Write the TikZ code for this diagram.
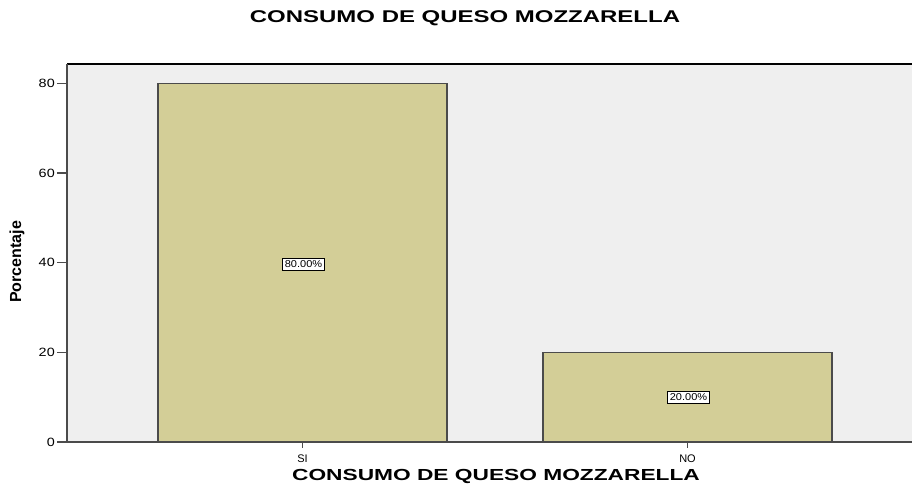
\documentclass[tikz,border=0pt]{standalone}
\usepackage{fontspec}
\setmainfont{Liberation Sans}
\usepackage{xcolor}
\usetikzlibrary{positioning}
\definecolor{fondo}{RGB}{239,239,239}
\definecolor{barra}{RGB}{211,206,151}
\definecolor{eje}{RGB}{75,75,75}

\begin{document}
\begin{tikzpicture}[x=1pt,y=1pt]
				\useasboundingbox (0,0) rectangle (912,485);
				
				% area del grafico
				\fill[fondo] (67,43) rectangle (912,421);
				\draw[black,line width=1.3pt] (67,421) -- (912,421);
				
				% barras
				\draw[eje,line width=1.3pt,fill=barra] (158,43) rectangle (447,401.7);%SI%
				\draw[eje,line width=1.3pt,fill=barra] (543,43) rectangle (832,132.7);%NO%
				\draw[eje,line width=1.3pt] (67,421) -- (67,43) -- (912,43);
				
				\coordinate (Y0) at (67,43);
				\coordinate (Y20) at (67,132.7);
				\coordinate (Y40) at (67,222.4);
				\coordinate (Y60) at (67,312.0);
				\coordinate (Y80) at (67,401.7);
				\coordinate (XSI) at (302.5,43);
				\coordinate (XNO) at (687.5,43);
				
				\begin{scope}[every node/.style={inner sep=0pt,font=\fontsize{12}{14}\selectfont,xscale=1.2}]
					\node[left=12pt of Y0] (L0) {0};
					\node[left=12pt of Y20] (L20) {20};
					\node[left=12pt of Y40] (L40) {40};
					\node[left=12pt of Y60] (L60) {60};
					\node[left=12pt of Y80] (L80) {80};
				\end{scope}
				
				\begin{scope}[every node/.style={inner sep=0pt,font=\fontsize{11}{13}\selectfont}]
					\node[below=13pt of XSI] (LSI) {SI};
					\node[below=13pt of XNO] (LNO) {NO};
				\end{scope}
				
				\begin{scope}[eje,line width=1.2pt]
					\draw (Y0) -- ++(-10,0);
					\draw (Y20) -- ++(-10,0);
					\draw (Y40) -- ++(-10,0);
					\draw (Y60) -- ++(-10,0);
					\draw (Y80) -- ++(-10,0);
					\draw (XSI) -- ++(0,-6);
					\draw (XNO) -- ++(0,-6);
				\end{scope}
				
				% etiquetas de porcentaje
				\begin{scope}[every node/.style={draw=black,thick,fill=white,inner xsep=2pt,inner ysep=2.5pt,font=\fontsize{10}{12}\selectfont,xscale=1.1}]
					\node (P1) at (303.5,221) {80.00\%};
					\node (P2) at (688.5,88) {20.00\%};
				\end{scope}
				
				% titulos
				\node[font=\bfseries\fontsize{17}{20}\selectfont,xscale=1.41] (T) at (465,467) {CONSUMO DE QUESO MOZZARELLA};
				\node[font=\bfseries\fontsize{16}{19}\selectfont,xscale=1.42] (TX) at (496,9) {CONSUMO DE QUESO MOZZARELLA};
				\node[font=\bfseries\fontsize{16}{19}\selectfont,rotate=90] (TY) at (17,223) {Porcentaje};
			\end{tikzpicture}
\end{document}
